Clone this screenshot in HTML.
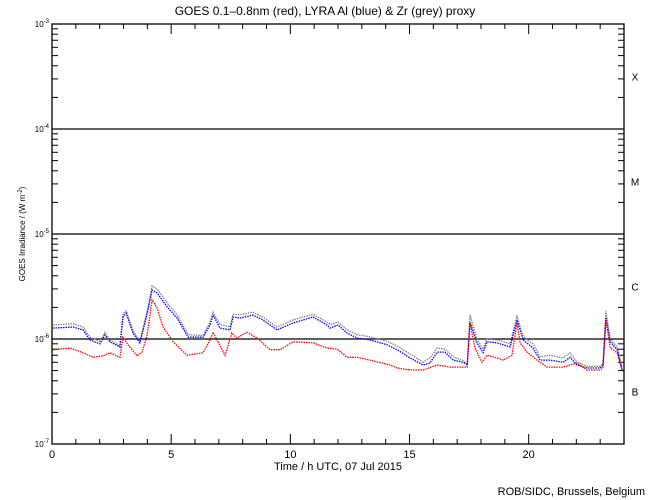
<!DOCTYPE html>
<html><head><meta charset="utf-8"><style>
html,body{margin:0;padding:0;background:#fff;}
svg{display:block;font-family:"Liberation Sans",sans-serif;}
</style></head><body>
<svg id="chart" width="650" height="500" viewBox="0 0 650 500" xmlns="http://www.w3.org/2000/svg">
<rect width="650" height="500" fill="#fff"/>
<text x="325" y="15" font-size="12" text-anchor="middle">GOES 0.1–0.8nm (red), LYRA Al (blue) &amp; Zr (grey) proxy</text>
<text x="338" y="470" font-size="11" text-anchor="middle">Time / h UTC, 07 Jul 2015</text>
<text transform="translate(25,234) rotate(-90)" font-size="8" text-anchor="middle">GOES Irradiance / (W m<tspan dy="-3" font-size="6">-2</tspan><tspan dy="3">)</tspan></text>
<text x="645" y="495" font-size="11" text-anchor="end">ROB/SIDC, Brussels, Belgium</text>
<g id="axes"></g>
<g id="series"></g>
</svg>
<script>
const xTicks = [0, 5, 10, 15, 20];
const yDecades = [-7, -6, -5, -4, -3];
const flareClasses = ["B", "C", "M", "X"];
const blueTimes = [0.04,0.88,1.30,1.59,2.01,2.22,2.43,2.85,2.98,3.11,3.40,3.69,3.90,4.03,4.20,4.41,4.83,5.25,5.71,6.34,6.63,6.76,7.05,7.47,7.60,7.89,8.43,8.85,9.44,10.11,10.95,11.54,
11.67,12.00,12.38,12.80,13.34,14.06,14.48,15.02,15.57,15.86,16.16,16.49,16.83,17.25,17.42,17.54,17.83,18.09,18.25,18.67,19.22,19.51,19.77,20.18,20.48,20.90,21.44,21.74,22.03,22.45,23.00,23.12,23.24,23.42,23.71,23.92];
const blueValues = [1.27,1.30,1.22,0.98,0.90,1.09,0.94,0.84,1.62,1.77,1.14,0.92,1.42,1.89,2.93,2.74,2.02,1.58,1.04,1.04,1.36,1.69,1.27,1.22,1.62,1.58,1.69,1.52,1.22,1.42,1.62,1.36,
1.27,1.36,1.14,1.02,0.98,0.88,0.79,0.66,0.565,0.59,0.75,0.75,0.63,0.60,0.565,1.45,0.92,0.74,0.94,0.92,0.84,1.52,0.98,0.82,0.63,0.63,0.60,0.67,0.565,0.53,0.53,0.565,1.58,0.94,0.79,0.507];
const greyValues = [1.36,1.40,1.30,1.04,0.95,1.15,0.98,0.86,1.75,1.85,1.20,0.95,1.50,2.0,3.2,3.0,2.2,1.7,1.10,1.08,1.45,1.80,1.38,1.30,1.72,1.70,1.80,1.62,1.30,1.52,1.72,1.45,
1.37,1.45,1.22,1.10,1.05,0.95,0.86,0.72,0.60,0.66,0.82,0.80,0.68,0.62,0.58,1.7,1.0,0.80,1.00,0.98,0.90,1.65,1.05,0.90,0.68,0.70,0.66,0.74,0.60,0.55,0.55,0.58,1.85,1.00,0.84,0.54];
const redTimes = [0.04,0.76,1.30,1.72,2.14,2.43,2.85,2.98,3.19,3.57,3.78,3.99,4.20,4.41,4.66,5.08,5.67,6.34,6.63,6.76,7.26,7.55,7.76,8.18,8.60,9.15,9.57,10.11,10.95,11.54,11.96,12.38,12.80,13.34,14.18,14.48,15.02,15.57,16.16,16.70,17.42,17.54,17.75,18.04,18.25,18.67,18.93,19.30,19.51,19.64,19.93,20.35,20.77,21.44,22.03,22.45,23.00,23.12,23.24,23.42,23.71,23.92];
const redValues = [0.79,0.82,0.74,0.67,0.69,0.74,0.67,1.04,0.88,0.69,0.75,1.09,2.35,1.97,1.30,0.94,0.70,0.74,0.98,1.16,0.70,1.14,1.02,1.16,1.02,0.79,0.79,0.94,0.92,0.82,0.80,0.67,0.67,0.63,0.565,0.53,0.507,0.507,0.565,0.54,0.54,1.42,0.82,0.60,0.70,0.66,0.63,0.70,1.42,0.92,0.75,0.63,0.54,0.54,0.59,0.507,0.507,0.53,1.52,0.82,0.74,0.507];
// values in units of 1e-6 W m^-2

const X0=52, X1=624, Y0=24, Y1=444;
const xScale = t => X0 + t*(X1-X0)/24;
const yScaleLog = lg => Y1 - (lg+7)*(Y1-Y0)/4;
const yScale = v => yScaleLog(Math.log10(v*1e-6));
const NS="http://www.w3.org/2000/svg";
const axes=document.getElementById('axes');
const ser=document.getElementById('series');
function mk(tag, attrs, parent){const e=document.createElementNS(NS,tag);for(const k in attrs)e.setAttribute(k,attrs[k]);parent.appendChild(e);return e;}

const frame=mk('rect',{x:X0,y:Y0,width:X1-X0,height:Y1-Y0,fill:'none',stroke:'#000','stroke-width':1.3},axes);



// y ticks
for(let d=-7; d<-3; d++){
  for(let m=2;m<=9;m++){
    const y=yScaleLog(d+Math.log10(m));
    const t1=mk('line',{x1:X0,y1:y,x2:X0+6,y2:y,stroke:'#000'},axes);
    
    
    const t2=mk('line',{x1:X1,y1:y,x2:X1-6,y2:y,stroke:'#000'},axes);
    
    
  }
}
yDecades.forEach(d=>{
  const y=yScaleLog(d);
  if(d>-7 && d<-3){
    const g=mk('line',{x1:X0,y1:y,x2:X1,y2:y,stroke:'#000','stroke-width':1.3},axes);
    
    
  }
  const tx=mk('text',{x:X0-3,y:y+3,'font-size':8,'text-anchor':'end'},axes);
  
  
  tx.innerHTML='10<tspan dy="-4" font-size="6">'+d+'</tspan>';
});
flareClasses.forEach((c,i)=>{
  const y=yScaleLog(-7+i+0.5);
  const tx=mk('text',{x:635,y:y+4,'font-size':10,'text-anchor':'middle'},axes);
  
  
  tx.textContent=c;
});
// x ticks
for(let h=1;h<24;h++){
  const x=xScale(h), len=(h%5===0)?10:5;
  const a=mk('line',{x1:x,y1:Y1,x2:x,y2:Y1-len,stroke:'#000'},axes);
  
  
  const b=mk('line',{x1:x,y1:Y0,x2:x,y2:Y0+len,stroke:'#000'},axes);
  
  
}
xTicks.forEach(h=>{
  const tx=mk('text',{x:xScale(h),y:458,'font-size':11,'text-anchor':'middle'},axes);
  
  
  tx.textContent=String(h);
});

function drawSeries(times, vals, color, name){
  const pts=times.map((t,i)=>xScale(t).toFixed(1)+','+yScale(vals[i]).toFixed(1)).join(' ');
  const pl=mk('polyline',{points:pts,fill:'none',stroke:color,'stroke-width':1.3,'stroke-dasharray':'1.5 1'},ser);
  
  
}
drawSeries(blueTimes, greyValues, '#808080', 'lyra-zr-series');
drawSeries(blueTimes, blueValues, '#0000ff', 'lyra-al-series');
drawSeries(redTimes, redValues, '#ff0000', 'goes-series');
</script>
</body></html>
